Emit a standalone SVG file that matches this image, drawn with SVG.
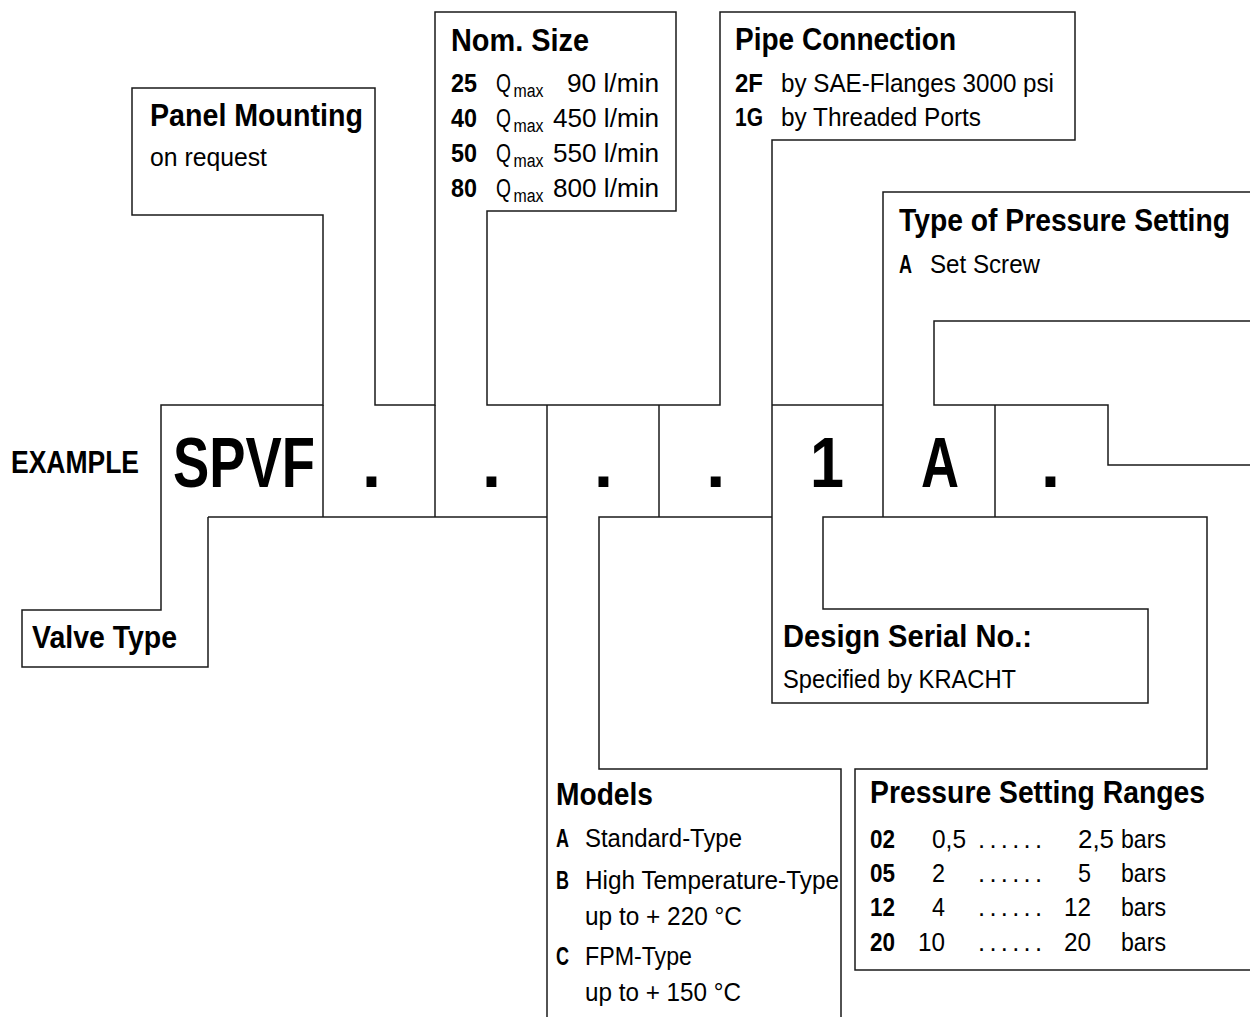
<svg xmlns="http://www.w3.org/2000/svg" width="1250" height="1017" viewBox="0 0 1250 1017">
<style>
.ln{fill:none;stroke:#1a1a1a;stroke-width:1.5}
text{font-family:"Liberation Sans",Arial,sans-serif;fill:#000}
.h{font-weight:bold;font-size:31px}
.t{font-size:25.5px}
.tb{font-size:25.5px;font-weight:bold}
.big{font-size:70px;font-weight:bold}
.sub{font-size:18px}
.mid{text-anchor:middle}
</style>
<rect width="1250" height="1017" fill="#fff"/>
<g id="connectors" class="ln">
<path d="M208,517 V667 H22 V610 H161 V405 H323 V215 H132 V88 H375 V405 H435 V12 H676 V211 H487 V405 H720 V12 H1075 V140 H772 V703 H1148 V609 H823 V517 H1207 V769 H855 V970 H1252"/>
<path d="M323,405 V517"/>
<path d="M435,405 V517"/>
<path d="M208,517 H547"/>
<path d="M547,405 V1020"/>
<path d="M772,517 H599 V769 H841 V1020"/>
<path d="M659,405 V517"/>
<path d="M772,405 H883"/>
<path d="M883,517 V192 H1252"/>
<path d="M995,405 V517"/>
<path d="M1252,321 H934 V405 H1108 V465 H1252"/>
</g>
<g id="node-example">
<text class="h" x="11" y="473" textLength="128" lengthAdjust="spacingAndGlyphs">EXAMPLE</text>
<text class="big" x="173" y="487" textLength="142" lengthAdjust="spacingAndGlyphs">SPVF</text>
<text class="big mid" x="371.5" y="487">.</text>
<text class="big mid" x="491.5" y="487">.</text>
<text class="big mid" x="603.5" y="487">.</text>
<text class="big mid" x="715.7" y="487">.</text>
<text class="big mid" x="827" y="487" textLength="34" lengthAdjust="spacingAndGlyphs">1</text>
<text class="big" x="921" y="487" textLength="38" lengthAdjust="spacingAndGlyphs">A</text>
<text class="big mid" x="1050.5" y="487">.</text>
</g>
<g id="node-valve-type">
<text class="h" x="32" y="648" textLength="145" lengthAdjust="spacingAndGlyphs">Valve Type</text>
</g>
<g id="node-panel-mounting">
<text class="h" x="150" y="126" textLength="213" lengthAdjust="spacingAndGlyphs">Panel Mounting</text>
<text class="t" x="150" y="166" textLength="117" lengthAdjust="spacingAndGlyphs">on request</text>
</g>
<g id="node-nom-size">
<text class="h" x="451" y="51" textLength="138" lengthAdjust="spacingAndGlyphs">Nom. Size</text>
<text class="tb" x="451" y="92" textLength="26" lengthAdjust="spacingAndGlyphs">25</text>
<text class="t" x="496" y="92" textLength="15" lengthAdjust="spacingAndGlyphs">Q</text>
<text class="sub" x="513.5" y="97" textLength="30" lengthAdjust="spacingAndGlyphs">max</text>
<text class="t" x="567" y="92" textLength="92" lengthAdjust="spacingAndGlyphs">90 l/min</text>
<text class="tb" x="451" y="127" textLength="26" lengthAdjust="spacingAndGlyphs">40</text>
<text class="t" x="496" y="127" textLength="15" lengthAdjust="spacingAndGlyphs">Q</text>
<text class="sub" x="513.5" y="132" textLength="30" lengthAdjust="spacingAndGlyphs">max</text>
<text class="t" x="553" y="127" textLength="106" lengthAdjust="spacingAndGlyphs">450 l/min</text>
<text class="tb" x="451" y="162" textLength="26" lengthAdjust="spacingAndGlyphs">50</text>
<text class="t" x="496" y="162" textLength="15" lengthAdjust="spacingAndGlyphs">Q</text>
<text class="sub" x="513.5" y="167" textLength="30" lengthAdjust="spacingAndGlyphs">max</text>
<text class="t" x="553" y="162" textLength="106" lengthAdjust="spacingAndGlyphs">550 l/min</text>
<text class="tb" x="451" y="197" textLength="26" lengthAdjust="spacingAndGlyphs">80</text>
<text class="t" x="496" y="197" textLength="15" lengthAdjust="spacingAndGlyphs">Q</text>
<text class="sub" x="513.5" y="202" textLength="30" lengthAdjust="spacingAndGlyphs">max</text>
<text class="t" x="553" y="197" textLength="106" lengthAdjust="spacingAndGlyphs">800 l/min</text>
</g>
<g id="node-pipe-connection">
<text class="h" x="735" y="50" textLength="221" lengthAdjust="spacingAndGlyphs">Pipe Connection</text>
<text class="tb" x="735" y="92" textLength="28" lengthAdjust="spacingAndGlyphs">2F</text>
<text class="t" x="781" y="92" textLength="273" lengthAdjust="spacingAndGlyphs">by SAE-Flanges 3000 psi</text>
<text class="tb" x="735" y="126" textLength="28" lengthAdjust="spacingAndGlyphs">1G</text>
<text class="t" x="781" y="126" textLength="200" lengthAdjust="spacingAndGlyphs">by Threaded Ports</text>
</g>
<g id="node-type-pressure-setting">
<text class="h" x="899" y="231" textLength="331" lengthAdjust="spacingAndGlyphs">Type of Pressure Setting</text>
<text class="tb" x="899" y="273" textLength="13" lengthAdjust="spacingAndGlyphs">A</text>
<text class="t" x="930" y="273" textLength="110" lengthAdjust="spacingAndGlyphs">Set Screw</text>
</g>
<g id="node-design-serial">
<text class="h" x="783" y="647" textLength="249" lengthAdjust="spacingAndGlyphs">Design Serial No.:</text>
<text class="t" x="783" y="688" textLength="233" lengthAdjust="spacingAndGlyphs">Specified by KRACHT</text>
</g>
<g id="node-models">
<text class="h" x="556" y="805" textLength="97" lengthAdjust="spacingAndGlyphs">Models</text>
<text class="tb" x="556" y="847" textLength="13" lengthAdjust="spacingAndGlyphs">A</text>
<text class="t" x="585" y="847" textLength="157" lengthAdjust="spacingAndGlyphs">Standard-Type</text>
<text class="tb" x="556" y="889" textLength="13" lengthAdjust="spacingAndGlyphs">B</text>
<text class="t" x="585" y="889" textLength="254" lengthAdjust="spacingAndGlyphs">High Temperature-Type</text>
<text class="t" x="585" y="925" textLength="157" lengthAdjust="spacingAndGlyphs">up to + 220 °C</text>
<text class="tb" x="556" y="965" textLength="13" lengthAdjust="spacingAndGlyphs">C</text>
<text class="t" x="585" y="965" textLength="107" lengthAdjust="spacingAndGlyphs">FPM-Type</text>
<text class="t" x="585" y="1001" textLength="156" lengthAdjust="spacingAndGlyphs">up to + 150 °C</text>
</g>
<g id="node-pressure-ranges">
<text class="h" x="870" y="803" textLength="335" lengthAdjust="spacingAndGlyphs">Pressure Setting Ranges</text>
<text class="tb" x="870" y="848" textLength="25" lengthAdjust="spacingAndGlyphs">02</text>
<text class="t" x="932" y="848" textLength="34" lengthAdjust="spacingAndGlyphs">0,5</text>
<text class="t" x="978" y="848" textLength="64" lengthAdjust="spacing">......</text>
<text class="t" x="1078" y="848" textLength="36" lengthAdjust="spacingAndGlyphs">2,5</text>
<text class="t" x="1121" y="848" textLength="45" lengthAdjust="spacingAndGlyphs">bars</text>
<text class="tb" x="870" y="882" textLength="25" lengthAdjust="spacingAndGlyphs">05</text>
<text class="t" x="932" y="882" textLength="13" lengthAdjust="spacingAndGlyphs">2</text>
<text class="t" x="978" y="882" textLength="64" lengthAdjust="spacing">......</text>
<text class="t" x="1078" y="882" textLength="13" lengthAdjust="spacingAndGlyphs">5</text>
<text class="t" x="1121" y="882" textLength="45" lengthAdjust="spacingAndGlyphs">bars</text>
<text class="tb" x="870" y="916" textLength="25" lengthAdjust="spacingAndGlyphs">12</text>
<text class="t" x="932" y="916" textLength="13" lengthAdjust="spacingAndGlyphs">4</text>
<text class="t" x="978" y="916" textLength="64" lengthAdjust="spacing">......</text>
<text class="t" x="1064" y="916" textLength="27" lengthAdjust="spacingAndGlyphs">12</text>
<text class="t" x="1121" y="916" textLength="45" lengthAdjust="spacingAndGlyphs">bars</text>
<text class="tb" x="870" y="951" textLength="25" lengthAdjust="spacingAndGlyphs">20</text>
<text class="t" x="918" y="951" textLength="27" lengthAdjust="spacingAndGlyphs">10</text>
<text class="t" x="978" y="951" textLength="64" lengthAdjust="spacing">......</text>
<text class="t" x="1064" y="951" textLength="27" lengthAdjust="spacingAndGlyphs">20</text>
<text class="t" x="1121" y="951" textLength="45" lengthAdjust="spacingAndGlyphs">bars</text>
</g>
</svg>
